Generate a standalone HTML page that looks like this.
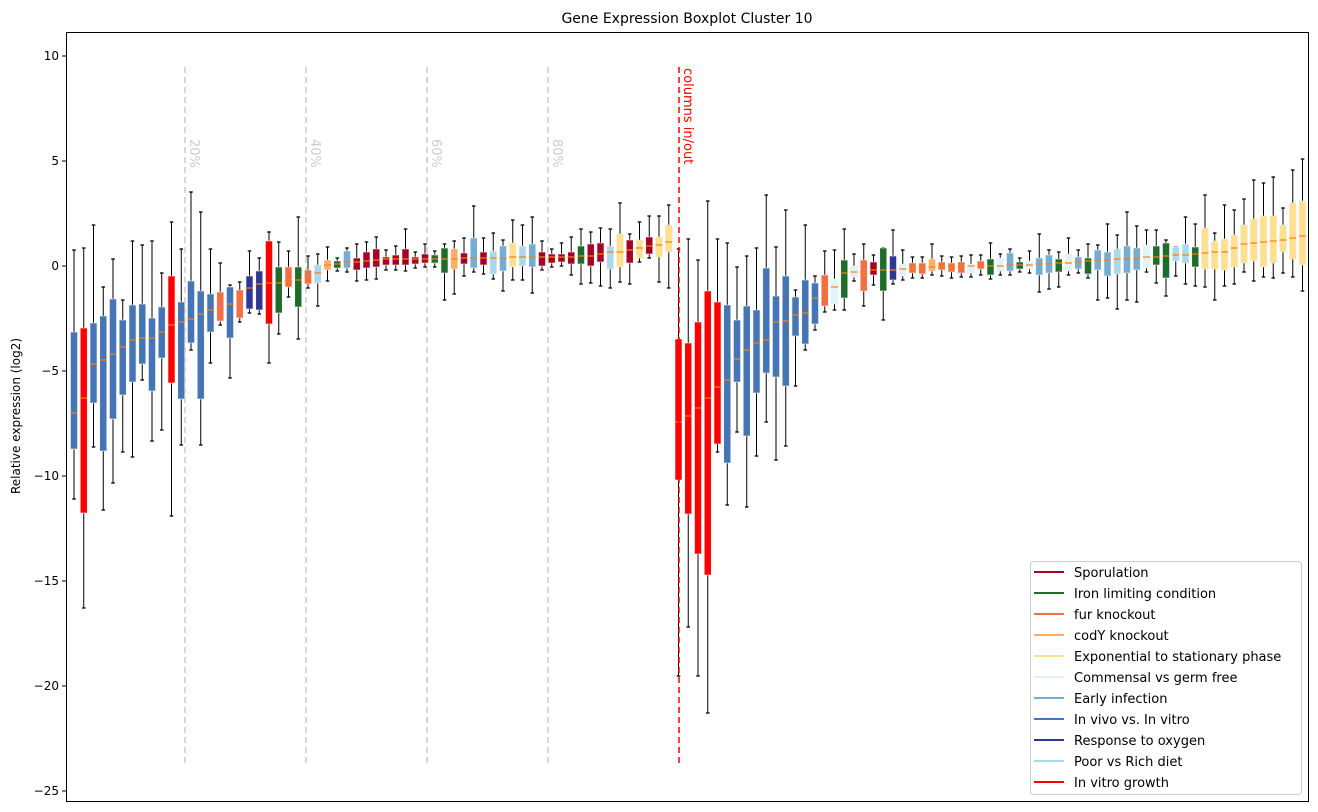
<!DOCTYPE html>
<html><head><meta charset="utf-8"><style>
html,body{margin:0;padding:0;background:#fff;}
svg{display:block;font-family:"DejaVu Sans","Liberation Sans",sans-serif;}
</style></head><body>
<svg id="s" width="1318" height="812" xmlns="http://www.w3.org/2000/svg">
<rect width="1318" height="812" fill="#fff"/>
<text x="687" y="23" font-size="14" text-anchor="middle">Gene Expression Boxplot Cluster 10</text>
<text transform="translate(20,416) rotate(-90)" font-size="12" text-anchor="middle">Relative expression (log2)</text>
<g font-size="12" text-anchor="end">
<text x="59" y="60">10</text><line x1="62" x2="66" y1="56" y2="56" stroke="#000"/>
<text x="59" y="165">5</text><line x1="62" x2="66" y1="161" y2="161" stroke="#000"/>
<text x="59" y="270">0</text><line x1="62" x2="66" y1="266" y2="266" stroke="#000"/>
<text x="59" y="375">−5</text><line x1="62" x2="66" y1="371" y2="371" stroke="#000"/>
<text x="59" y="480">−10</text><line x1="62" x2="66" y1="476" y2="476" stroke="#000"/>
<text x="59" y="585">−15</text><line x1="62" x2="66" y1="581" y2="581" stroke="#000"/>
<text x="59" y="690">−20</text><line x1="62" x2="66" y1="686" y2="686" stroke="#000"/>
<text x="59" y="795">−25</text><line x1="62" x2="66" y1="791" y2="791" stroke="#000"/>
</g>
<g stroke="#cccccc" stroke-width="1.5" stroke-dasharray="6,4">
<line x1="185" x2="185" y1="67" y2="767"/><line x1="306" x2="306" y1="67" y2="767"/>
<line x1="427" x2="427" y1="67" y2="767"/><line x1="548" x2="548" y1="67" y2="767"/>
</g>
<g fill="#cccccc" font-size="13">
<text transform="translate(190,139) rotate(90)">20%</text>
<text transform="translate(311,139) rotate(90)">40%</text>
<text transform="translate(432,139) rotate(90)">60%</text>
<text transform="translate(553,139) rotate(90)">80%</text>
</g>
<g id="boxes"></g>
<line x1="679" x2="679" y1="67" y2="767" stroke="#ff0000" stroke-width="1.5" stroke-dasharray="6,4"/>
<text transform="translate(684,68) rotate(90)" fill="#ff0000" font-size="13">columns in/out</text>
<rect x="66.5" y="32.5" width="1242" height="769" fill="none" stroke="#000" stroke-width="1"/>
<rect x="1030.5" y="561.5" width="271" height="233" rx="3" fill="#fff" fill-opacity="0.85" stroke="#ccc"/>
<g font-size="13" stroke-width="2">
<line x1="1034" x2="1064" y1="572" y2="572" stroke="#a50026"/><text x="1074" y="577" stroke="none">Sporulation</text>
<line x1="1034" x2="1064" y1="593" y2="593" stroke="#1f6b2b"/><text x="1074" y="598" stroke="none">Iron limiting condition</text>
<line x1="1034" x2="1064" y1="614" y2="614" stroke="#f46d43"/><text x="1074" y="619" stroke="none">fur knockout</text>
<line x1="1034" x2="1064" y1="635" y2="635" stroke="#fdae61"/><text x="1074" y="640" stroke="none">codY knockout</text>
<line x1="1034" x2="1064" y1="656" y2="656" stroke="#fee090"/><text x="1074" y="661" stroke="none">Exponential to stationary phase</text>
<line x1="1034" x2="1064" y1="677" y2="677" stroke="#e0f3f8"/><text x="1074" y="682" stroke="none">Commensal vs germ free</text>
<line x1="1034" x2="1064" y1="698" y2="698" stroke="#74add1"/><text x="1074" y="703" stroke="none">Early infection</text>
<line x1="1034" x2="1064" y1="719" y2="719" stroke="#4575b4"/><text x="1074" y="724" stroke="none">In vivo vs. In vitro</text>
<line x1="1034" x2="1064" y1="740" y2="740" stroke="#313695"/><text x="1074" y="745" stroke="none">Response to oxygen</text>
<line x1="1034" x2="1064" y1="761" y2="761" stroke="#abd9e9"/><text x="1074" y="766" stroke="none">Poor vs Rich diet</text>
<line x1="1034" x2="1064" y1="782" y2="782" stroke="#ff0000"/><text x="1074" y="787" stroke="none">In vitro growth</text>
</g>
</svg>
<script>
var C={S:"#a50026",G:"#1f6b2b",F:"#f46d43",Y:"#fdae61",E:"#fee090",M:"#e0f3f8",I:"#74add1",V:"#4575b4",O:"#313695",P:"#abd9e9",R:"#ff0000"};
var D=[
["V",250,332,413,449,499],["R",248,328,398,513,608],["V",225,323,364,403,447],["V",287,316,360,451,510],["V",259,299,354,419,483],
["V",300,320,347,395,452],["V",241,305,340,382,457],["V",245,304,338,364,380],["V",241,318,338,391,441],["V",273,307,332,358,430],
["R",222,276,325,383,516],["V",249,302,322,399,445],["V",192,281,319,343,350],["V",212,291,314,399,445],["V",249,294,310,332,363],
["F",263,292,308,321,325],["V",285,287,304,338,378],["F",282,290,298,318,322],["O",251,276,288,309,313],["O",258,271,284,310,314],
["R",232,241,283,324,363],["G",242,267,283,313,334],["F",251,267,281,287,297],["G",217,267,280,307,339],["F",256,270,277,284,288],
["P",254,265,273,283,306],["Y",247,260,265,270,281],["G",258,261,264,268,271],["I",248,251,262,268,272],["S",244,258,262,270,281],
["S",242,252,261,268,280],["S",237,249,260,267,279],["S",250,257,259,265,270],["S",246,255,259,265,270],["S",229,249,259,265,271],
["S",252,257,259,264,268],["S",244,254,259,263,267],["G",251,255,259,263,267],["G",244,248,259,273,300],["Y",241,249,259,269,294],
["S",238,253,258,264,276],["I",206,238,258,268,272],["S",238,252,258,265,274],["P",233,251,258,274,279],["I",240,246,258,271,291],
["E",220,243,257,267,280],["P",225,246,257,266,280],["I",217,244,257,267,293],["S",241,252,257,266,270],["S",249,254,257,263,267],
["S",243,254,257,262,266],["S",237,252,257,264,275],["G",229,246,256,264,284],["S",232,244,256,266,283],["S",228,243,254,262,286],
["P",229,246,252,269,288],["E",203,234,252,267,282],["S",234,240,250,263,284],["E",222,240,248,258,262],["S",216,237,246,254,258],
["E",216,237,245,257,282],["E",205,225,242,252,288],
["R",249,339,422,480,676],["R",239,343,416,514,627],["R",260,322,408,554,676],["R",201,291,398,575,713],["R",239,302,387,444,452],
["V",243,305,380,463,505],["V",267,320,359,382,432],["V",256,306,350,436,507],["V",248,310,343,393,456],["V",195,268,340,373,422],
["V",247,296,322,377,460],["V",210,276,321,386,446],["V",290,297,315,336,386],["V",225,280,313,344,350],["V",276,283,298,324,330],
["F",251,275,288,306,312],["M",250,279,287,304,310],["G",229,260,273,298,310],["M",254,266,272,277,281],["F",244,260,272,291,306],
["S",255,262,270,275,285],["G",254,248,270,291,320],["O",230,256,270,280,284],["M",250,264,269,276,280],["F",257,263,268,273,278],
["F",257,263,268,274,278],["Y",244,259,267,271,275],["F",256,262,267,270,276],["F",257,263,267,272,278],["F",256,262,267,273,277],
["M",255,264,266,273,277],["F",255,261,266,269,275],["G",243,259,266,275,279],["M",254,258,266,271,275],["I",249,253,265,271,275],
["G",258,262,265,269,272],["M",251,261,265,269,273],["I",234,258,264,275,292],["I",250,255,264,273,289],["G",252,259,263,272,287],
["M",238,254,263,271,275],["I",250,257,262,269,273],["G",244,258,261,274,278],["I",245,250,260,270,300],["I",224,252,260,276,298],
["P",235,249,259,274,309],["I",212,246,259,273,300],["I",226,248,259,270,302],["M",230,245,257,268,272],["G",230,246,257,265,283],
["G",240,243,256,278,296],["P",255,247,255,261,276],["P",217,244,255,263,284],["G",224,247,254,267,286],["E",195,228,253,269,287],
["E",233,241,252,269,300],["E",205,239,252,270,286],["E",210,235,248,267,284],["E",199,225,244,263,272],["E",180,219,243,261,281],
["E",183,216,242,267,277],["E",177,216,241,263,278],["E",208,225,240,252,273],["E",170,203,238,259,277],["E",159,201,236,265,291]
];
var g=document.getElementById("boxes"),h="";
for(var i=0;i<D.length;i++){
 var d=D[i],x=74+i*9.75,wt=Math.min(d[1],d[2]),wb=Math.max(d[5],d[4]);
 h+='<line x1="'+x+'" x2="'+x+'" y1="'+wt+'" y2="'+d[2]+'" stroke="#000" stroke-width="1"/>';
 h+='<line x1="'+x+'" x2="'+x+'" y1="'+d[4]+'" y2="'+wb+'" stroke="#000" stroke-width="1"/>';
 h+='<line x1="'+(x-1.8)+'" x2="'+(x+1.8)+'" y1="'+wt+'" y2="'+wt+'" stroke="#000" stroke-width="1.3"/>';
 h+='<line x1="'+(x-1.8)+'" x2="'+(x+1.8)+'" y1="'+wb+'" y2="'+wb+'" stroke="#000" stroke-width="1.3"/>';
 h+='<rect x="'+(x-3.5)+'" y="'+d[2]+'" width="7" height="'+Math.max(2,d[4]-d[2])+'" fill="'+C[d[0]]+'" stroke="#f0f0f0" stroke-width="0.6"/>';
 h+='<line x1="'+(x-3.5)+'" x2="'+(x+3.5)+'" y1="'+d[3]+'" y2="'+d[3]+'" stroke="#ff7f0e" stroke-width="1.2"/>';
}
g.innerHTML=h;
</script>
</body></html>
